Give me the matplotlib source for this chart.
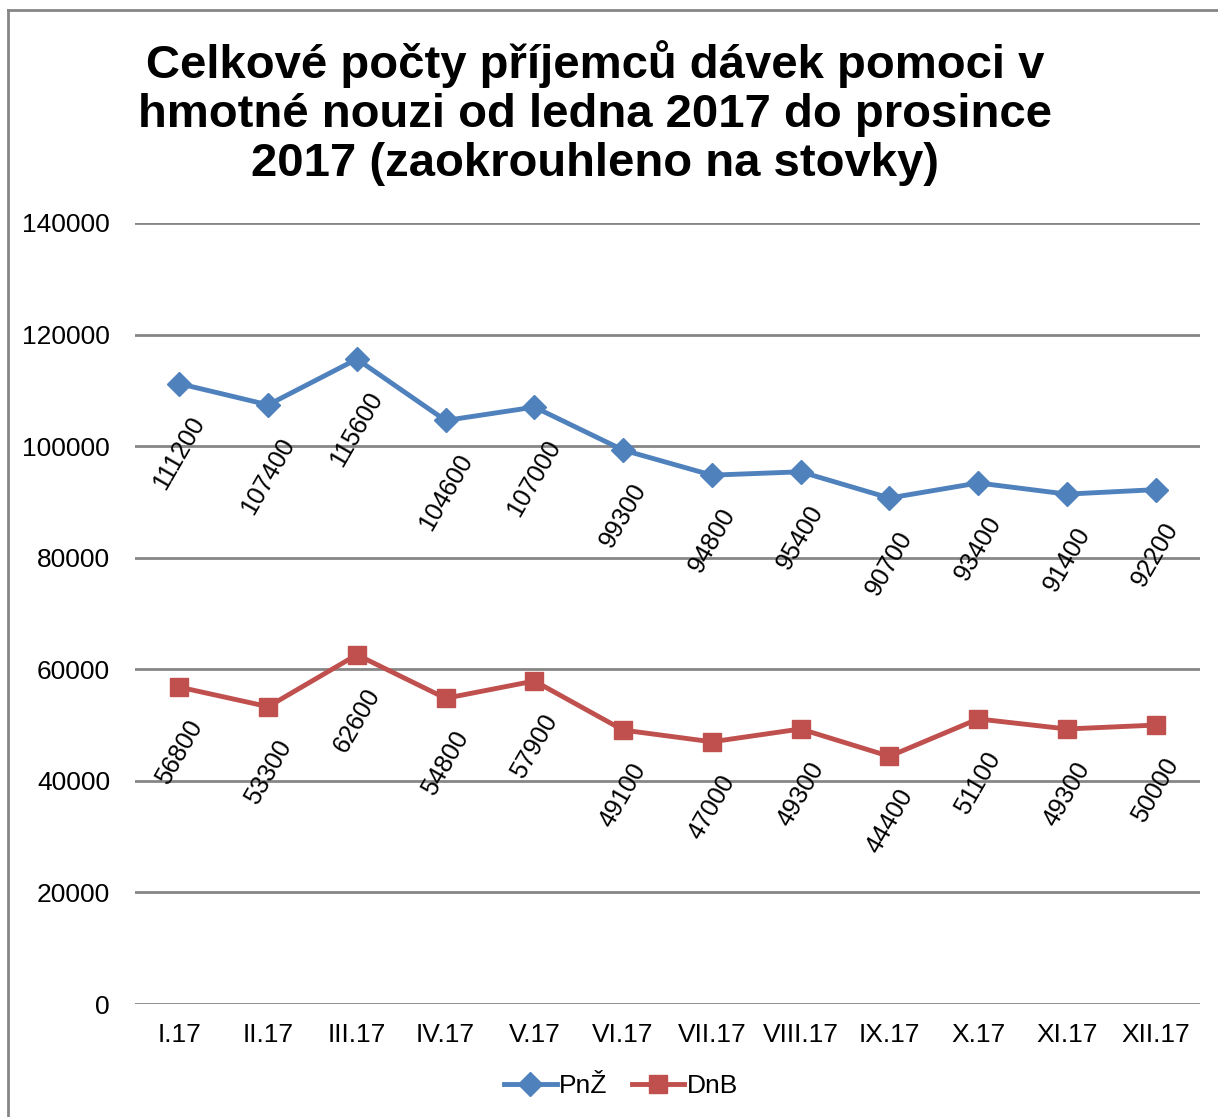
import matplotlib
matplotlib.use("Agg")
import matplotlib.pyplot as plt
from matplotlib.lines import Line2D

plt.rcParams['font.family'] = ['Liberation Sans', 'DejaVu Sans']

months = ["I.17", "II.17", "III.17", "IV.17", "V.17", "VI.17",
          "VII.17", "VIII.17", "IX.17", "X.17", "XI.17", "XII.17"]
pnz = [111200, 107400, 115600, 104600, 107000, 99300,
       94800, 95400, 90700, 93400, 91400, 92200]
dnb = [56800, 53300, 62600, 54800, 57900, 49100,
       47000, 49300, 44400, 51100, 49300, 50000]
yticks = [0, 20000, 40000, 60000, 80000, 100000, 120000, 140000]

blue = "#4F81BD"
red = "#C0504D"
grid_col = "#868686"

fig = plt.figure(figsize=(12.18, 11.17), dpi=100)
ax = fig.add_axes([135/1218, 1 - 1004/1117, 1065/1218, 781/1117])

x = list(range(len(months)))
ax.plot(x, pnz, color=blue, lw=3.5, marker="D", ms=12, label="PnŽ", zorder=3)
ax.plot(x, dnb, color=red, lw=3.5, marker="s", ms=13, label="DnB", zorder=3)

# data labels below points, rotated
for xi, v in zip(x, pnz):
    ax.annotate(str(v), (xi, v), xytext=(0, -29), textcoords="offset pixels",
                rotation=60, ha="center", va="top", fontsize=18)
for xi, v in zip(x, dnb):
    ax.annotate(str(v), (xi, v), xytext=(0, -29), textcoords="offset pixels",
                rotation=60, ha="center", va="top", fontsize=18)

ax.set_xlim(-0.5, len(months) - 0.5)
ax.set_ylim(0, 140000)
ax.set_yticks(yticks)
ax.set_yticklabels([str(t) for t in yticks])
ax.set_xticks(x)
ax.set_xticklabels(months)
ax.tick_params(axis="both", length=0, labelsize=19)
ax.tick_params(axis="y", pad=18)
ax.tick_params(axis="x", pad=14)

for t in yticks:
    ax.axhline(t, color=grid_col, lw=2, zorder=1)
for s in ax.spines.values():
    s.set_visible(False)

fig.text(595/1218, 1 - 113/1117,
         "Celkové počty příjemců dávek pomoci v\nhmotné nouzi od ledna 2017 do prosince\n2017 (zaokrouhleno na stovky)",
         ha="center", va="center", fontsize=34, fontweight="bold", linespacing=1.15)

fig.legend(loc="center", bbox_to_anchor=(621/1218, 1 - 1086/1117), ncol=2,
           frameon=False, fontsize=19, handlelength=2.0, columnspacing=0.9,
           handletextpad=0.1)

# outer chart border (left and top visible)
fig.add_artist(Line2D([8/1218, 8/1218], [0, 1 - 10/1117], transform=fig.transFigure,
                      color=grid_col, lw=2))
fig.add_artist(Line2D([8/1218, 1], [1 - 10/1117, 1 - 10/1117], transform=fig.transFigure,
                      color=grid_col, lw=2))

fig.savefig("out.png", dpi=100)
